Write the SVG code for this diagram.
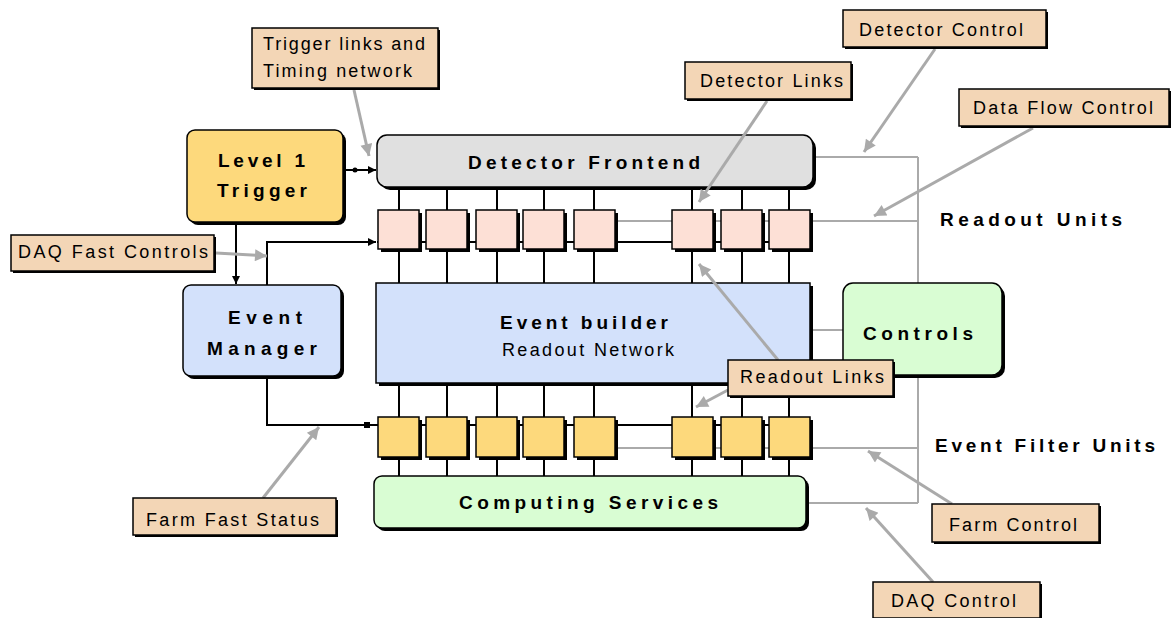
<svg xmlns="http://www.w3.org/2000/svg" width="1172" height="618" viewBox="0 0 1172 618">
<style>
.sh{fill:#000}
.nd{stroke:#000;stroke-width:1.5}
.lb{fill:#f3d6b6;stroke:#000;stroke-width:1.5}
.t{font-family:"Liberation Sans",Arial,sans-serif;font-size:18px;fill:#000}
.b{font-family:"Liberation Sans",Arial,sans-serif;font-size:19px;font-weight:bold;fill:#000}
.bk{stroke:#000;stroke-width:2;fill:none}
.gr{stroke:#aaa;stroke-width:2;fill:none}
.ga{stroke:#aaa;stroke-width:3;fill:none;marker-end:url(#ga)}
.ru{fill:#fde0d6}
.fu{fill:#fdd97c}
</style>
<defs>
<marker id="ba" viewBox="0 0 10 10" refX="10" refY="5" markerWidth="4" markerHeight="4" orient="auto" markerUnits="strokeWidth"><path d="M0 0L10 5L0 10z" fill="#000"/></marker>
<marker id="ga" viewBox="0 0 10 10" refX="10" refY="5" markerWidth="5" markerHeight="4" orient="auto" markerUnits="strokeWidth"><path d="M0 0L10 5L0 10z" fill="#aaa"/></marker>
</defs>
<rect width="1172" height="618" fill="#fff"/>
<g id="connectors">
<g class="bk">
<path d="M399 189V476M447 189V476M497 189V476M544 189V476M594 189V476M692 189V476M742 189V476M789 189V476"/>
<path d="M377 242H812"/>
<path d="M377 425H812"/>
</g>
<g class="gr">
<path d="M600 221H918M600 448H918M815 157H918M808 503H918M918 157V503M810 330H843"/>
</g>
<path class="bk" d="M345 170H376" marker-end="url(#ba)"/>
<circle cx="355" cy="170" r="2.5" fill="#000"/>
<path class="bk" d="M236 224V284" marker-end="url(#ba)"/>
<path class="bk" d="M267 285V242H376" marker-end="url(#ba)"/>
<path class="bk" d="M267 378V425H377"/>
<rect x="364" y="422" width="6" height="6" fill="#000"/>
</g>
<g id="level1">
<rect class="sh" x="190" y="133" width="156" height="92" rx="8"/>
<rect class="nd" x="187" y="130" width="156" height="92" rx="8" fill="#fdd97c"/>
<text class="b" x="218" y="167" textLength="87" lengthAdjust="spacing">Level 1</text>
<text class="b" x="217" y="197" textLength="90" lengthAdjust="spacing">Trigger</text>
</g>
<g id="frontend">
<rect class="sh" x="380" y="138" width="436" height="52" rx="10"/>
<rect class="nd" x="377" y="135" width="436" height="52" rx="10" fill="#e0e0e0"/>
<text class="b" x="468" y="169" textLength="232" lengthAdjust="spacing">Detector Frontend</text>
</g>
<g id="readout-units">
<rect class="sh" x="381" y="213" width="41" height="39"/><rect class="nd ru" x="378" y="210" width="41" height="39"/>
<rect class="sh" x="429" y="213" width="41" height="39"/><rect class="nd ru" x="426" y="210" width="41" height="39"/>
<rect class="sh" x="479" y="213" width="41" height="39"/><rect class="nd ru" x="476" y="210" width="41" height="39"/>
<rect class="sh" x="526" y="213" width="41" height="39"/><rect class="nd ru" x="523" y="210" width="41" height="39"/>
<rect class="sh" x="577" y="213" width="41" height="39"/><rect class="nd ru" x="574" y="210" width="41" height="39"/>
<rect class="sh" x="675" y="213" width="41" height="39"/><rect class="nd ru" x="672" y="210" width="41" height="39"/>
<rect class="sh" x="724" y="213" width="41" height="39"/><rect class="nd ru" x="721" y="210" width="41" height="39"/>
<rect class="sh" x="772" y="213" width="41" height="39"/><rect class="nd ru" x="769" y="210" width="41" height="39"/>
</g>
<g id="readout-units-label">
<text class="b" x="940" y="226" font-size="18" textLength="182" lengthAdjust="spacing">Readout Units</text>
</g>
<g id="event-manager">
<rect class="sh" x="186" y="288" width="158" height="91" rx="8"/>
<rect class="nd" x="183" y="285" width="158" height="91" rx="8" fill="#d3e1fb"/>
<text class="b" x="228" y="324" textLength="74" lengthAdjust="spacing">Event</text>
<text class="b" x="207" y="355" textLength="110" lengthAdjust="spacing">Manager</text>
</g>
<g id="event-builder">
<rect class="sh" x="379" y="286" width="434" height="100"/>
<rect class="nd" x="376" y="283" width="434" height="100" fill="#d3e1fb"/>
<text class="b" x="500" y="329" textLength="168" lengthAdjust="spacing">Event builder</text>
<text class="t" x="502" y="356" textLength="172" lengthAdjust="spacing">Readout Network</text>
</g>
<g id="controls">
<rect class="sh" x="846" y="286" width="159" height="92" rx="10"/>
<rect class="nd" x="843" y="283" width="159" height="92" rx="10" fill="#d9fdd3"/>
<text class="b" x="863" y="340" textLength="110" lengthAdjust="spacing">Controls</text>
</g>
<g id="filter-units">
<rect class="sh" x="381" y="420" width="41" height="40"/><rect class="nd fu" x="378" y="417" width="41" height="40"/>
<rect class="sh" x="429" y="420" width="41" height="40"/><rect class="nd fu" x="426" y="417" width="41" height="40"/>
<rect class="sh" x="479" y="420" width="41" height="40"/><rect class="nd fu" x="476" y="417" width="41" height="40"/>
<rect class="sh" x="526" y="420" width="41" height="40"/><rect class="nd fu" x="523" y="417" width="41" height="40"/>
<rect class="sh" x="577" y="420" width="41" height="40"/><rect class="nd fu" x="574" y="417" width="41" height="40"/>
<rect class="sh" x="675" y="420" width="41" height="40"/><rect class="nd fu" x="672" y="417" width="41" height="40"/>
<rect class="sh" x="724" y="420" width="41" height="40"/><rect class="nd fu" x="721" y="417" width="41" height="40"/>
<rect class="sh" x="772" y="420" width="41" height="40"/><rect class="nd fu" x="769" y="417" width="41" height="40"/>
</g>
<g id="filter-units-label">
<text class="b" x="935" y="452" font-size="18" textLength="220" lengthAdjust="spacing">Event Filter Units</text>
</g>
<g id="computing">
<rect class="sh" x="377" y="479" width="432" height="52" rx="8"/>
<rect class="nd" x="374" y="476" width="432" height="52" rx="8" fill="#d9fdd3"/>
<text class="b" x="459" y="509" textLength="259" lengthAdjust="spacing">Computing Services</text>
</g>
<g id="callout-arrows">
<path class="ga" d="M354 90L369 156"/>
<path class="ga" d="M935 49L864 152"/>
<path class="ga" d="M767 101L699 202"/>
<path class="ga" d="M1033 128L874 216"/>
<path class="ga" d="M216 253L267 256"/>
<path class="ga" d="M778 360L699 264"/>
<path class="ga" d="M728 390L696 407"/>
<path class="ga" d="M263 498L319 427"/>
<path class="ga" d="M952 504L868 451"/>
<path class="ga" d="M933 582L866 508"/>
</g>
<g id="label-trigger-links">
<rect class="sh" x="254" y="30" width="186" height="60"/><rect class="lb" x="252" y="28" width="186" height="60"/>
<text class="t" x="263" y="50" textLength="162" lengthAdjust="spacing">Trigger links and</text>
<text class="t" x="263" y="77" textLength="149" lengthAdjust="spacing">Timing network</text>
</g>
<g id="label-detector-control">
<rect class="sh" x="845" y="12" width="203" height="37"/><rect class="lb" x="843" y="10" width="203" height="37"/>
<text class="t" x="859" y="36" textLength="164" lengthAdjust="spacing">Detector Control</text>
</g>
<g id="label-detector-links">
<rect class="sh" x="687" y="64" width="166" height="37"/><rect class="lb" x="685" y="62" width="166" height="37"/>
<text class="t" x="700" y="87" textLength="143" lengthAdjust="spacing">Detector Links</text>
</g>
<g id="label-data-flow">
<rect class="sh" x="961" y="91" width="210" height="37"/><rect class="lb" x="959" y="89" width="210" height="37"/>
<text class="t" x="973" y="114" textLength="180" lengthAdjust="spacing">Data Flow Control</text>
</g>
<g id="label-daq-fast">
<rect class="sh" x="13" y="237" width="203" height="36"/><rect class="lb" x="11" y="235" width="203" height="36"/>
<text class="t" x="18" y="258" textLength="190" lengthAdjust="spacing">DAQ Fast Controls</text>
</g>
<g id="label-readout-links">
<rect class="sh" x="730" y="362" width="165" height="36"/><rect class="lb" x="728" y="360" width="165" height="36"/>
<text class="t" x="740" y="383" textLength="144" lengthAdjust="spacing">Readout Links</text>
</g>
<g id="label-farm-fast">
<rect class="sh" x="135" y="500" width="203" height="37"/><rect class="lb" x="133" y="498" width="203" height="37"/>
<text class="t" x="146" y="526" textLength="173" lengthAdjust="spacing">Farm Fast Status</text>
</g>
<g id="label-farm-control">
<rect class="sh" x="934" y="506" width="167" height="38"/><rect class="lb" x="932" y="504" width="167" height="38"/>
<text class="t" x="949" y="531" textLength="128" lengthAdjust="spacing">Farm Control</text>
</g>
<g id="label-daq-control">
<rect class="sh" x="875" y="584" width="167" height="36"/><rect class="lb" x="873" y="582" width="167" height="36"/>
<text class="t" x="891" y="607" textLength="125" lengthAdjust="spacing">DAQ Control</text>
</g>
</svg>
